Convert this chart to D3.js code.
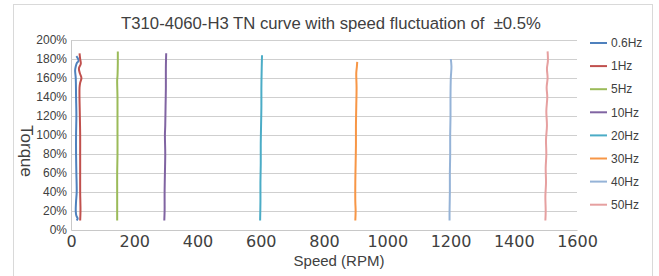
<!DOCTYPE html>
<html>
<head>
<meta charset="utf-8">
<script src="https://cdn.jsdelivr.net/npm/d3@7"></script>
<style>
  body { margin: 0; background: #fff; }
  text { fill: #404040; }
</style>
</head>
<body>
<div id="chart"></div>
<script>
// series data: [speed (RPM), torque (%)]
var hz0_6 = [[17,183],[21,181],[24,178],[19,176],[15,172],[13,168],[15,160],[16,140],[17,120],[16,100],[16,80],[17,60],[18,40],[16,30],[15,20],[17,15],[21,12],[18,10]];
var hz1 = [[27,186],[29,180],[31,175],[25,170],[28,165],[33,160],[29,155],[27,150],[28,120],[29,100],[29,80],[29,60],[29,40],[30,20],[29,10]];
var hz5 = [[148,188],[148,175],[147,162],[146,158],[147,140],[147,120],[147,100],[147,80],[146,60],[146,40],[146,20],[146,10]];
var hz10 = [[301,186],[300,170],[300,150],[299,130],[298,110],[297,100],[298,80],[297,60],[296,40],[296,20],[295,10]];
var hz20 = [[604,184],[603,170],[602,150],[602,130],[601,110],[600,90],[600,70],[599,50],[599,30],[598,10]];
var hz30 = [[905,177],[904,172],[902,165],[903,150],[902,130],[901,110],[901,90],[900,70],[899,50],[899,30],[900,20],[899,10]];
var hz40 = [[1201,180],[1203,172],[1201,160],[1200,140],[1200,120],[1199,100],[1199,80],[1198,60],[1198,40],[1197,20],[1197,10]];
var hz50 = [[1507,188],[1508,178],[1505,170],[1507,160],[1504,150],[1506,140],[1503,125],[1505,110],[1502,95],[1503,80],[1501,65],[1502,50],[1500,35],[1501,20],[1500,10]];

var seriesNames = ["0.6Hz", "1Hz", "5Hz", "10Hz", "20Hz", "30Hz", "40Hz", "50Hz"];
var seriesData = [hz0_6, hz1, hz5, hz10, hz20, hz30, hz40, hz50];
var seriesColors = ["#4f81bd", "#c0504d", "#9bbb59", "#8064a2", "#4bacc6", "#f79646", "#95b3d7", "#e6a0a0"];

var xTicks = [0, 200, 400, 600, 800, 1000, 1200, 1400, 1600];
var yTicks = [0, 20, 40, 60, 80, 100, 120, 140, 160, 180, 200];

var width = 659, height = 276;
var margin = {top: 40, left: 71, right: 82, bottom: 46};

var svg = d3.select("#chart").append("svg")
    .attr("width", width)
    .attr("height", height);

// outer frame
svg.append("rect")
    .attr("x", 13.5).attr("y", 4.5)
    .attr("width", 639).attr("height", 290)
    .attr("fill", "none")
    .attr("stroke", "#d9d9d9");

var x = d3.scaleLinear().domain([0, 1600]).range([margin.left, width - margin.right]);
var y = d3.scaleLinear().domain([0, 200]).range([height - margin.bottom, margin.top]);

// grid lines
svg.append("g")
    .selectAll("line")
    .data(yTicks.slice(1))
    .join("line")
    .attr("x1", x(0)).attr("x2", x(1600))
    .attr("y1", function(d) { return Math.round(y(d)) + 0.5; })
    .attr("y2", function(d) { return Math.round(y(d)) + 0.5; })
    .attr("stroke", "#cfcfcf");

// y axis
var yAxis = svg.append("g")
    .attr("transform", "translate(" + x(0) + ",0)")
    .call(d3.axisLeft(y).tickValues(yTicks).tickSize(0).tickPadding(4)
      .tickFormat(function(d) { return d + "%"; }));
yAxis.select(".domain").attr("stroke", "#c8c8c8");
yAxis.selectAll("text")
    .attr("font-family", "Liberation Sans, Arial, sans-serif")
    .attr("font-size", 12)
    .attr("fill", "#404040");

// x axis
var xAxis = svg.append("g")
    .attr("transform", "translate(0," + y(0) + ")")
    .call(d3.axisBottom(x).tickValues(xTicks).tickSize(0).tickPadding(6)
      .tickFormat(d3.format("d")));
xAxis.select(".domain").attr("stroke", "#c8c8c8");
xAxis.selectAll("text")
    .attr("font-family", "DejaVu Sans, sans-serif")
    .attr("font-size", 16)
    .attr("fill", "#333");

// lines
var line = d3.line()
    .x(function(d) { return x(d[0]); })
    .y(function(d) { return y(d[1]); })
    .curve(d3.curveCatmullRom);

svg.append("g")
    .selectAll("path")
    .data(seriesData)
    .join("path")
    .attr("d", line)
    .attr("fill", "none")
    .attr("stroke", function(d, i) { return seriesColors[i]; })
    .attr("stroke-width", 2);

// title
svg.append("text")
    .attr("x", 331).attr("y", 29)
    .attr("text-anchor", "middle")
    .attr("font-family", "Liberation Sans, Arial, sans-serif")
    .attr("font-size", 16.7)
    .attr("xml:space", "preserve")
    .text("T310-4060-H3 TN curve with speed fluctuation of  \u00b10.5%");

// axis titles
svg.append("text")
    .attr("x", 339).attr("y", 266)
    .attr("text-anchor", "middle")
    .attr("font-family", "Liberation Sans, Arial, sans-serif")
    .attr("font-size", 15)
    .text("Speed (RPM)");

svg.append("text")
    .attr("transform", "translate(21,151) rotate(90)")
    .attr("text-anchor", "middle")
    .attr("font-family", "Liberation Sans, Arial, sans-serif")
    .attr("font-size", 17)
    .text("Torque");

// legend
var legend = svg.append("g")
    .selectAll("g")
    .data(seriesNames)
    .join("g")
    .attr("transform", function(d, i) { return "translate(590," + (43 + i * 23.1) + ")"; });

legend.append("line")
    .attr("x1", 0).attr("x2", 17)
    .attr("stroke", function(d, i) { return seriesColors[i]; })
    .attr("stroke-width", 2);

legend.append("text")
    .attr("x", 21).attr("dy", "0.35em")
    .attr("font-family", "Liberation Sans, Arial, sans-serif")
    .attr("font-size", 12)
    .text(function(d) { return d; });
</script>
</body>
</html>
